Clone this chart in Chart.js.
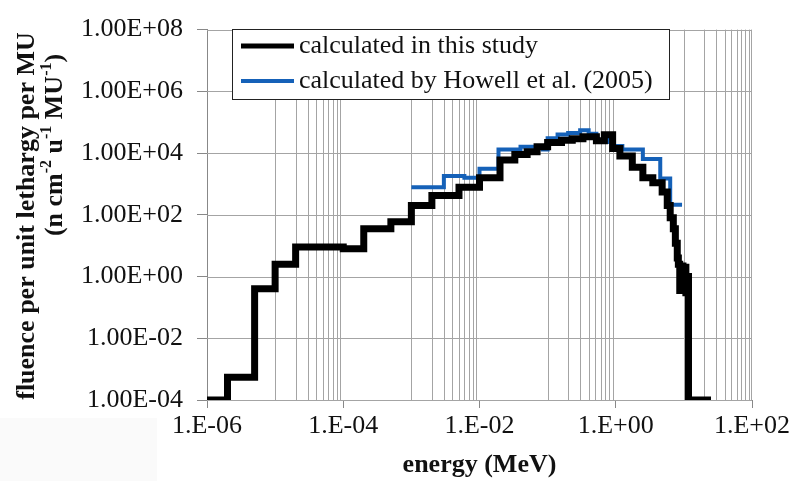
<!DOCTYPE html>
<html>
<head>
<meta charset="utf-8">
<script src="https://cdn.jsdelivr.net/npm/chart.js@4.4.1/dist/chart.umd.min.js"></script>
<style>
  body { margin: 0; background: #fff; }
  canvas { display: block; }
</style>
</head>
<body>
<canvas id="miGrafico" width="797" height="481"></canvas>
<script>
// ================== DATOS ==================

// calculado en este estudio (borde izquierdo de cada bin, MeV)
const energiaEstudio = [1e-6, 2e-6, 5e-6, 1e-5, 2e-5, 1e-4, 2e-4, 5e-4, 1e-3, 2e-3, 5e-3, 1e-2,
    2e-2, 3.3e-2, 5e-2, 7e-2, 0.1, 0.16, 0.23, 0.33, 0.52, 0.68, 0.9, 1.15, 1.75, 2.5, 3.5, 4.8,
    5.7, 6.3, 7, 7.5, 8, 8.3, 8.7, 9.2, 9.7, 10.2, 10.7, 11.3, 11.7, 25];
const fluenciaEstudio = [1e-4, 5.5e-4, 0.4, 2.5, 9, 8, 35, 60, 200, 420, 780, 1600,
    6000, 9000, 11000, 16000, 22000, 26000, 29000, 34000, 25000, 39000, 14000, 8000, 3500, 1600, 1100, 550,
    200, 80, 35, 12, 4, 2.5, 0.35, 2.2, 0.4, 2, 0.3, 1, 1e-4, 1e-4];

// Howell et al. (2005)
const energiaHowell = [1e-3, 3e-3, 6e-3, 1e-2, 1.9e-2, 4e-2, 8.5e-2, 0.1, 0.14, 0.2, 0.3, 0.4,
    0.52, 0.75, 0.9, 1.25, 2.5, 4.5, 6.3, 9.4];
const fluenciaHowell = [780, 1800, 1600, 3100, 13000, 16000, 13000, 30000, 40000, 45000, 55000, 42000,
    23000, 30000, 17000, 13000, 6400, 1500, 210, 210];

const ticksX = [1e-6, 1e-4, 1e-2, 1, 1e2];
const ticksY = [1e-4, 1e-2, 1, 1e2, 1e4, 1e6, 1e8];
const leyenda = ['calculated in this study', 'calculated by Howell et al. (2005)'];

const FUENTE = '"Liberation Serif", "Times New Roman", serif';

function puntos(xs, ys) {
    return xs.map((x, i) => ({ x: x, y: ys[i] }));
}

function exponente(v) {
    const e = Math.round(Math.log10(v));
    return (e < 0 ? '-' : '+') + String(Math.abs(e)).padStart(2, '0');
}

// ================== REJILLA ==================

const rejilla = {
    id: 'rejilla',
    beforeDraw(chart) {
        const ctx = chart.ctx;
        ctx.save();
        ctx.fillStyle = '#fff';
        ctx.fillRect(0, 0, chart.width, chart.height);
        ctx.fillStyle = '#fafafa';
        ctx.fillRect(0, 418, 157, 63);
        ctx.restore();
    },
    beforeDatasetsDraw(chart) {
        const { ctx, chartArea: a, scales: { x, y } } = chart;
        ctx.save();
        ctx.strokeStyle = '#a4a4a4';
        ctx.lineWidth = 1;
        ctx.beginPath();
        ticksY.forEach(v => {
            const py = Math.round(y.getPixelForValue(v)) + 0.5;
            ctx.moveTo(a.left, py);
            ctx.lineTo(a.right, py);
        });
        // lineas menores solo en las decadas impares
        [-5, -3, -1, 1].forEach(e => {
            for (let k = 1; k <= 9; k++) {
                const px = Math.round(x.getPixelForValue(k * Math.pow(10, e))) + 0.5;
                ctx.moveTo(px, a.top);
                ctx.lineTo(px, a.bottom);
            }
        });
        const pr = Math.round(x.getPixelForValue(1e2)) - 0.5;
        ctx.moveTo(pr, a.top);
        ctx.lineTo(pr, a.bottom);
        ctx.stroke();
        ctx.restore();
    }
};

// ================== TITULOS Y LEYENDA ==================

function textoConSuper(ctx, trozos, size) {
    const normal = 'bold ' + size + 'px ' + FUENTE;
    const chico = 'bold ' + Math.round(size * 0.62) + 'px ' + FUENTE;
    let total = 0;
    trozos.forEach(t => {
        ctx.font = t[1] ? chico : normal;
        total += ctx.measureText(t[0]).width;
    });
    let px = -total / 2;
    trozos.forEach(t => {
        ctx.font = t[1] ? chico : normal;
        ctx.fillText(t[0], px, t[1] ? -size * 0.33 : 0);
        px += ctx.measureText(t[0]).width;
    });
}

const titulos = {
    id: 'titulos',
    afterDraw(chart) {
        const { ctx, chartArea: a } = chart;
        ctx.save();
        ctx.fillStyle = '#111';
        ctx.textBaseline = 'middle';
        ctx.textAlign = 'center';
        ctx.font = 'bold 26px ' + FUENTE;
        ctx.fillText('energy (MeV)', (a.left + a.right) / 2, 465);

        ctx.save();
        ctx.translate(27, 216);
        ctx.rotate(-Math.PI / 2);
        ctx.fillText('fluence per unit lethargy per MU', 0, 0);
        ctx.restore();

        ctx.save();
        ctx.translate(55, 145);
        ctx.rotate(-Math.PI / 2);
        ctx.textAlign = 'left';
        textoConSuper(ctx, [['(n cm', false], ['-2', true], [' u', false], ['-1', true],
            [' MU', false], ['-1', true], [')', false]], 26);
        ctx.restore();
        ctx.restore();
    }
};

const cajaLeyenda = {
    id: 'cajaLeyenda',
    afterDatasetsDraw(chart) {
        const ctx = chart.ctx;
        const colores = chart.data.datasets.map(d => d.borderColor);
        const anchos = [5, 4];
        ctx.save();
        ctx.fillStyle = '#fff';
        ctx.fillRect(232.5, 29.5, 437, 70);
        ctx.strokeStyle = '#222';
        ctx.lineWidth = 1;
        ctx.strokeRect(232.5, 29.5, 437, 70);
        ctx.font = '26px ' + FUENTE;
        ctx.textBaseline = 'middle';
        ctx.textAlign = 'left';
        leyenda.forEach((txt, i) => {
            const py = 46 + i * 35;
            ctx.strokeStyle = colores[i];
            ctx.lineWidth = anchos[i];
            ctx.beginPath();
            ctx.moveTo(241, py);
            ctx.lineTo(294, py);
            ctx.stroke();
            ctx.fillStyle = '#111';
            ctx.fillText(txt, 299, py);
        });
        ctx.restore();
    }
};

// ================== GRAFICO ==================

const ctx = document.getElementById('miGrafico');

const grafico = new Chart(ctx, {
    type: 'line',
    data: {
        datasets: [{
            label: leyenda[0],
            data: puntos(energiaEstudio, fluenciaEstudio),
            borderColor: '#000000',
            borderWidth: 7,
            stepped: 'before',
            pointRadius: 0,
            fill: false,
            clip: 0
        }, {
            label: leyenda[1],
            data: puntos(energiaHowell, fluenciaHowell),
            borderColor: '#1561b8',
            borderWidth: 4,
            stepped: 'before',
            pointRadius: 0,
            fill: false,
            clip: 0
        }]
    },
    options: {
        responsive: false,
        animation: false,
        devicePixelRatio: 1,
        layout: { padding: { top: 20, right: 45, left: 0, bottom: 0 } },
        plugins: {
            legend: { display: false },
            tooltip: { enabled: false }
        },
        scales: {
            x: {
                type: 'logarithmic',
                min: 1e-6,
                max: 1e2,
                afterBuildTicks: s => { s.ticks = ticksX.map(v => ({ value: v })); },
                afterFit: s => { s.height = 81; },
                ticks: {
                    callback: v => '1.E' + exponente(v),
                    font: { family: FUENTE, size: 26 },
                    color: '#111',
                    padding: 3,
                    maxRotation: 0,
                    autoSkip: false
                },
                grid: { drawOnChartArea: false, tickLength: 8, color: '#888' },
                border: { color: '#888' }
            },
            y: {
                type: 'logarithmic',
                min: 1e-4,
                max: 1e8,
                afterBuildTicks: s => { s.ticks = ticksY.map(v => ({ value: v })); },
                afterFit: s => { s.width = 207; },
                ticks: {
                    callback: v => '1.00E' + exponente(v),
                    font: { family: FUENTE, size: 26 },
                    color: '#111',
                    padding: 14,
                    autoSkip: false
                },
                grid: { drawOnChartArea: false, tickLength: 10, color: '#888' },
                border: { color: '#888' }
            }
        }
    },
    plugins: [rejilla, titulos, cajaLeyenda]
});
</script>
</body>
</html>
